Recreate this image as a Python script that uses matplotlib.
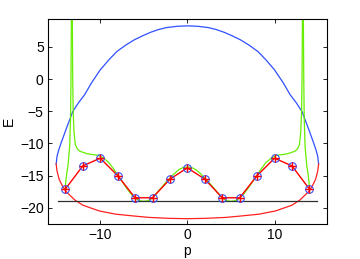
import matplotlib
matplotlib.use("Agg")
import matplotlib.pyplot as plt

plt.rcParams['font.family'] = ['Liberation Sans', 'DejaVu Sans']

# Marker points (red line with blue circles and red pluses)
p_pts = [-14, -12, -10, -8, -6, -4, -2, 0, 2, 4, 6, 8, 10, 12, 14]
E_pts = [-17.1, -13.5, -12.3, -15.0, -18.45, -18.45, -15.55, -13.8,
         -15.55, -18.45, -18.45, -15.0, -12.3, -13.5, -17.1]

# Upper (blue) part of closed curve
blue_p = [-15.05, -14.95, -14.75, -14.5, -13.9, -13.15, -12.5, -11.8, -11.0, -10.0, -9.0,
          -8.1, -7.1, -6.1, -5.1, -4.2, -3.3, -2.4, -1.2, 0.0,
          1.2, 2.4, 3.3, 4.2, 5.1, 6.1, 7.1, 8.1, 9.0, 10.0, 11.0, 11.8, 12.5, 13.15,
          13.9, 14.5, 14.75, 14.95, 15.05]
blue_E = [-13.2, -12.0, -11.0, -10.0, -7.75, -5.06, -3.7, -2.46, -0.6, 1.42, 3.0,
          4.27, 5.25, 6.09, 6.75, 7.28, 7.7, 8.0, 8.2, 8.27,
          8.2, 8.0, 7.7, 7.28, 6.75, 6.09, 5.25, 4.27, 3.0, 1.42, -0.6, -2.46, -3.7, -5.06,
          -7.75, -10.0, -11.0, -12.0, -13.2]

# Lower (red) part of closed curve
red_p = [-15.05, -14.95, -14.7, -14.3, -13.9, -12.9, -12.0, -10.1, -8.2, -6.0, -4.4, -2.0, 0.0,
         2.0, 4.4, 6.0, 8.2, 10.1, 12.0, 12.9, 13.9, 14.3, 14.7, 14.95, 15.05]
red_E = [-13.2, -14.3, -15.6, -16.7, -17.5, -18.8, -19.6, -20.5, -21.0, -21.3, -21.5, -21.65, -21.7,
         -21.65, -21.5, -21.3, -21.0, -20.5, -19.6, -18.8, -17.5, -16.7, -15.6, -14.3, -13.2]

# Green main branch
green_p = [-13.2, -13.15, -13.1, -13.0, -12.85, -12.6, -12.35, -12.05, -11.5, -10.8, -10.2, -9.6,
           -9.0, -8.5, -8.0, -7.5, -7.0, -6.5, -6.0, -5.5, -5.0, -4.5, -4.0, -3.5, -3.0,
           -2.5, -2.0, -1.5, -1.0, -0.5, 0.0, 0.5, 1.0, 1.5, 2.0, 2.5, 3.0, 3.5, 4.0, 4.5,
           5.0, 5.5, 6.0, 6.5, 7.0, 7.5, 8.0, 8.5, 9.0, 9.6, 10.2, 10.8, 11.5, 12.05, 12.35,
           12.6, 12.85, 13.0, 13.1, 13.15, 13.2]
green_E = [10.0, 0.0, -5.0, -8.3, -10.2, -10.9, -11.2, -11.35, -11.6, -11.75, -11.85, -12.3,
           -13.0, -13.9, -14.9, -15.9, -16.9, -17.8, -18.5, -18.9, -19.0, -18.9, -18.5,
           -17.7, -16.9, -16.1, -15.4, -14.7, -14.1, -13.75, -13.65, -13.75, -14.1, -14.7,
           -15.4, -16.1, -16.9, -17.7, -18.5, -18.9, -19.0, -18.9, -18.5, -17.8, -16.9,
           -15.9, -14.9, -13.9, -13.0, -12.3, -11.85, -11.75, -11.6, -11.35, -11.2, -10.9,
           -10.2, -8.3, -5.0, 0.0, 10.0]

# Green outer branches (left and right)
greenL_p = [-14.0, -13.95, -13.85, -13.7, -13.5, -13.4, -13.35, -13.3]
greenL_E = [-17.1, -16.0, -14.8, -13.5, -10.5, -6.0, 0.0, 10.0]
greenR_p = [14.0, 13.95, 13.85, 13.7, 13.5, 13.4, 13.35, 13.3]
greenR_E = [-17.1, -16.0, -14.8, -13.5, -10.5, -6.0, 0.0, 10.0]

# Horizontal reference line
hline_p = [-14.85, 14.9]
hline_E = [-19.0, -19.0]

x_ticks = [-10, 0, 10]
y_ticks = [-20, -15, -10, -5, 0, 5]

fig = plt.figure(figsize=(3.6, 2.59), dpi=100)
ax = fig.add_axes([0.133, 0.135, 0.775, 0.792])

ax.plot(blue_p, blue_E, color='#3050ff', lw=0.9)
ax.plot(red_p, red_E, color='#ff2020', lw=0.9)
ax.plot(green_p, green_E, color='#66ee00', lw=0.9)
ax.plot(greenL_p, greenL_E, color='#66ee00', lw=0.9)
ax.plot(greenR_p, greenR_E, color='#66ee00', lw=0.9)
ax.plot(hline_p, hline_E, color='#303030', lw=0.9)
ax.plot(p_pts, E_pts, color='#ff0000', lw=1.0, zorder=4)
ax.plot(p_pts, E_pts, linestyle='none', marker='o', markersize=5.5,
        markerfacecolor='none', markeredgecolor='#3355ff', markeredgewidth=0.8, zorder=5)
ax.plot(p_pts, E_pts, linestyle='none', marker='+', markersize=6,
        color='#ff0000', markeredgewidth=1.0, zorder=6)

ax.set_xlim(-16, 16)
ax.set_ylim(-22.53, 9.35)
ax.set_xticks(x_ticks)
ax.set_yticks(y_ticks)
ax.set_xticklabels([f"\u2212{abs(v)}" if v < 0 else str(v) for v in x_ticks])
ax.set_yticklabels([f"\u2212{abs(v)}" if v < 0 else str(v) for v in y_ticks])
ax.tick_params(direction='in', top=True, right=True, length=3, width=0.6,
               labelsize=10, pad=3)
for s in ax.spines.values():
    s.set_linewidth(0.8)
ax.set_xlabel('p', fontsize=10, labelpad=1)
ax.set_ylabel('E', fontsize=10, labelpad=3)

fig.savefig('out.png', dpi=100)
